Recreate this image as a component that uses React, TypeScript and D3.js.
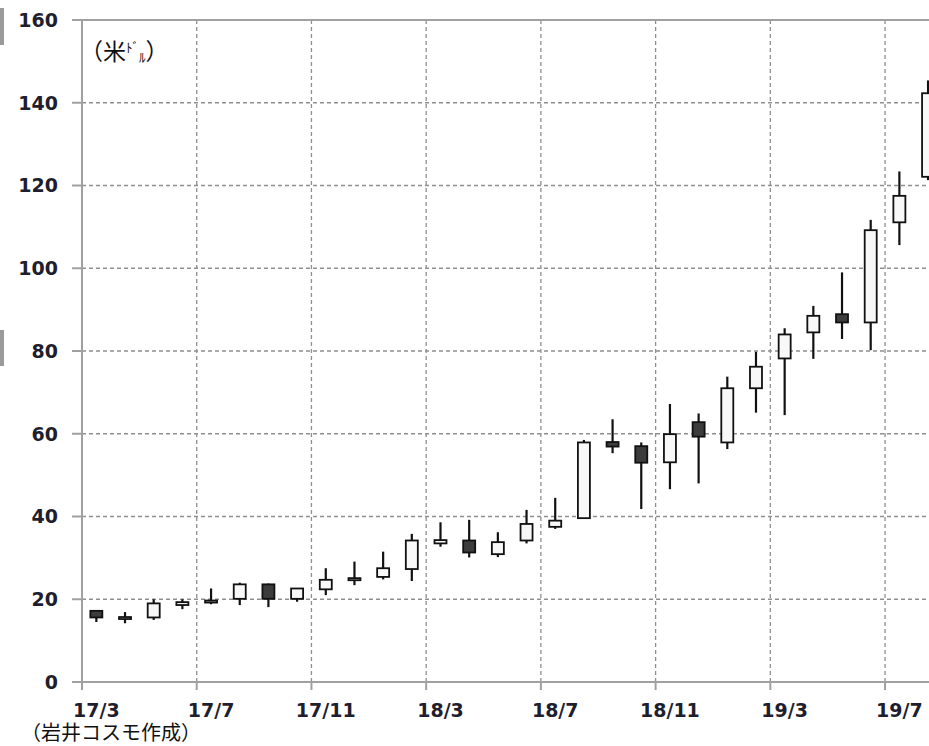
import React, {useEffect, useRef} from 'react';
import * as d3 from "d3";

// monthly candles, 17/3 .. 19/8
const months = [
    "17/3", "17/4", "17/5", "17/6", "17/7", "17/8", "17/9", "17/10", "17/11", "17/12",
    "18/1", "18/2", "18/3", "18/4", "18/5", "18/6", "18/7", "18/8", "18/9", "18/10",
    "18/11", "18/12", "19/1", "19/2", "19/3", "19/4", "19/5", "19/6", "19/7", "19/8"
];
const openVals = [
    17.2, 15.4, 15.6, 18.6, 19.2, 20.1, 23.6, 20.1, 22.4, 24.6,
    25.4, 27.3, 33.5, 34.2, 30.9, 34.2, 37.5, 39.6, 58.0, 57.0,
    53.1, 62.8, 57.9, 71.0, 78.2, 84.5, 88.9, 86.9, 111.1, 122.1
];
const highVals = [
    17.3, 16.9, 20.0, 20.0, 22.6, 24.0, 23.8, 22.7, 27.5, 29.1,
    31.5, 35.8, 38.6, 39.2, 36.2, 41.6, 44.5, 58.5, 63.5, 57.9,
    67.2, 64.9, 73.8, 79.8, 85.5, 90.9, 99.0, 111.7, 123.4, 145.4
];
const lowVals = [
    14.5, 14.2, 15.0, 17.6, 18.8, 18.6, 18.1, 19.4, 21.0, 23.4,
    24.8, 24.4, 32.7, 30.1, 30.2, 33.5, 37.0, 39.6, 55.3, 41.8,
    46.6, 48.0, 56.3, 65.1, 64.5, 78.1, 82.9, 80.2, 105.6, 121.3
];
const closeVals = [
    15.6, 15.7, 19.0, 19.3, 19.7, 23.6, 20.1, 22.6, 24.7, 25.1,
    27.5, 34.2, 34.3, 31.3, 33.8, 38.2, 39.0, 57.9, 56.9, 53.0,
    59.9, 59.3, 71.0, 76.2, 84.0, 88.5, 86.9, 109.2, 117.5, 142.3
];
const yTicks = [0, 20, 40, 60, 80, 100, 120, 140, 160];
const xTickLabels = ["17/3", "17/7", "17/11", "18/3", "18/7", "18/11", "19/3", "19/7"];

const W = 929, H = 746;

export default function App() {
    const ref = useRef<SVGSVGElement>(null);

    useEffect(() => {
        const svg = d3.select(ref.current);
        svg.selectAll("*").remove();

        const left = 82, top = 20, bottom = 682;
        const right = left + months.length * 28.68;

        const x = d3.scaleBand().domain(months).range([left, right]).padding(0);
        const y = d3.scaleLinear().domain([0, 160]).range([bottom, top]);

        const numFont = "'DejaVu Sans', Verdana, sans-serif";
        const jpFont = "'Noto Sans CJK JP', sans-serif";

        // stray grey marks on the left edge
        svg.append("rect").attr("x", 0).attr("y", 8).attr("width", 4).attr("height", 37).attr("fill", "#9a9a9a");
        svg.append("rect").attr("x", 0).attr("y", 330).attr("width", 4).attr("height", 36).attr("fill", "#9a9a9a");

        //horizontal grid
        svg.append("g").selectAll("line")
            .data(yTicks.filter(v => v > 0 && v < 160))
            .enter().append("line")
            .attr("x1", left).attr("x2", right)
            .attr("y1", d => y(d)).attr("y2", d => y(d))
            .attr("stroke", "#8f8f8f").attr("stroke-width", 1.3)
            .attr("stroke-dasharray", "4,3");

        //vertical grid at every 4th month
        const tickMonths = xTickLabels;
        svg.append("g").selectAll("line")
            .data(tickMonths.slice(1))
            .enter().append("line")
            .attr("x1", d => x(d)!).attr("x2", d => x(d)!)
            .attr("y1", top).attr("y2", bottom)
            .attr("stroke", "#8f8f8f").attr("stroke-width", 1.3)
            .attr("stroke-dasharray", "4,3");

        // axes frame
        const axisCol = "#a0a0a0";
        svg.append("line").attr("x1", left - 10).attr("x2", right).attr("y1", top).attr("y2", top)
            .attr("stroke", axisCol).attr("stroke-width", 2);
        svg.append("line").attr("x1", left - 10).attr("x2", right).attr("y1", bottom).attr("y2", bottom)
            .attr("stroke", axisCol).attr("stroke-width", 2);
        svg.append("line").attr("x1", left).attr("x2", left).attr("y1", top).attr("y2", bottom + 8)
            .attr("stroke", axisCol).attr("stroke-width", 2);

        // y ticks + labels
        const yg = svg.append("g");
        yg.selectAll("line").data(yTicks).enter().append("line")
            .attr("x1", left - 10).attr("x2", left)
            .attr("y1", d => y(d)).attr("y2", d => y(d))
            .attr("stroke", axisCol).attr("stroke-width", 2);
        yg.selectAll("text").data(yTicks).enter().append("text")
            .attr("x", 58).attr("y", d => y(d))
            .attr("dy", "0.36em")
            .attr("text-anchor", "end")
            .attr("font-family", numFont).attr("font-weight", "bold")
            .attr("font-size", 19).attr("fill", "#1e1e2e")
            .text(d => d);

        // x ticks + labels
        const xg = svg.append("g");
        xg.selectAll("line").data(tickMonths).enter().append("line")
            .attr("x1", d => x(d)!).attr("x2", d => x(d)!)
            .attr("y1", bottom).attr("y2", bottom + 8)
            .attr("stroke", axisCol).attr("stroke-width", 2);
        xg.selectAll("text").data(tickMonths).enter().append("text")
            .attr("x", d => x(d)! + x.bandwidth() / 2)
            .attr("y", 717)
            .attr("text-anchor", "middle")
            .attr("font-family", numFont).attr("font-weight", "bold")
            .attr("font-size", 19).attr("fill", "#1e1e2e")
            .text(d => d);

        // candles
        const data = months.map((m, i) => ({
            m, o: openVals[i], h: highVals[i], l: lowVals[i], c: closeVals[i]
        }));
        const bodyW = 12;
        const cg = svg.append("g");
        const cx = (m: string) => x(m)! + x.bandwidth() / 2;

        cg.selectAll("line").data(data).enter().append("line")
            .attr("x1", d => cx(d.m)).attr("x2", d => cx(d.m))
            .attr("y1", d => y(d.h)).attr("y2", d => y(d.l))
            .attr("stroke", "#111").attr("stroke-width", 2.2);

        cg.selectAll("rect").data(data).enter().append("rect")
            .attr("x", d => cx(d.m) - bodyW / 2)
            .attr("width", bodyW)
            .attr("y", d => y(Math.max(d.o, d.c)))
            .attr("height", d => Math.max(2, Math.abs(y(d.o) - y(d.c))))
            .attr("fill", d => d.c < d.o ? "#3c3c3c" : "#f8f8f8")
            .attr("stroke", "#111").attr("stroke-width", 1.8);

        // unit label
        const unit = svg.append("text")
            .attr("x", 80).attr("y", 60)
            .attr("font-family", jpFont).attr("font-size", 23).attr("fill", "#111");
        unit.append("tspan").text("（米");
        unit.append("tspan").attr("font-size", 13).attr("dy", -8).text("ﾄﾞ");
        unit.append("tspan").attr("font-size", 13).attr("dy", 10).text("ﾙ");
        unit.append("tspan").attr("dy", -2).text("）");

        // source
        svg.append("text")
            .attr("x", 21).attr("y", 740)
            .attr("font-family", jpFont).attr("font-size", 20).attr("fill", "#111")
            .text("（岩井コスモ作成）");
    }, []);

    return (
        <svg ref={ref} width={W} height={H}
             style={{position: "absolute", left: 0, top: 0, background: "#fff", display: "block"}}/>
    );
}
